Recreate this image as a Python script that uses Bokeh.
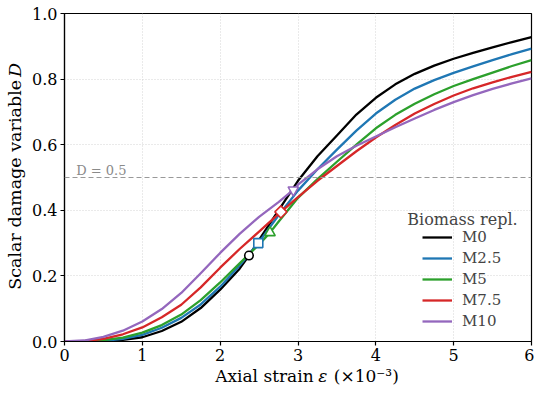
import math
from bokeh.plotting import figure
from bokeh.layouts import row, column
from bokeh.models import (Label, Legend, LegendItem, Range1d, Span,
                          FixedTicker, PrintfTickFormatter)
from bokeh.core.properties import value
from bokeh.embed import file_html
from bokeh.resources import INLINE

# ---------------- data ----------------
series_names = ["M0", "M2.5", "M5", "M7.5", "M10"]
series_colors = ["#000000", "#1f77b4", "#2ca02c", "#d62728", "#9467bd"]

m0_x = [0.0, 0.25, 0.5, 0.75, 1.0, 1.25, 1.5, 1.75, 2.0, 2.25, 2.37,
        2.5, 2.75, 3.0, 3.25, 3.5, 3.75, 4.0, 4.25, 4.5, 4.75, 5.0, 5.25, 5.5, 5.75, 6.0]
m0_y = [0.0, 0.0, 0.001, 0.005, 0.013, 0.032, 0.060, 0.102, 0.158, 0.222, 0.262,
        0.310, 0.400, 0.490, 0.565, 0.628, 0.692, 0.743, 0.784, 0.816, 0.841, 0.862, 0.880, 0.897, 0.913, 0.928]

m25_x = [0.0, 0.25, 0.5, 0.75, 1.0, 1.25, 1.5, 1.75, 2.0, 2.25, 2.49,
         2.75, 3.0, 3.25, 3.5, 3.75, 4.0, 4.25, 4.5, 4.75, 5.0, 5.25, 5.5, 5.75, 6.0]
m25_y = [0.0, 0.0, 0.002, 0.008, 0.020, 0.042, 0.072, 0.113, 0.167, 0.232, 0.300,
         0.385, 0.460, 0.525, 0.585, 0.643, 0.695, 0.737, 0.771, 0.797, 0.819, 0.839, 0.858, 0.876, 0.893]

m5_x = [0.0, 0.25, 0.5, 0.75, 1.0, 1.25, 1.5, 1.75, 2.0, 2.25, 2.5, 2.64,
        2.75, 3.0, 3.25, 3.5, 3.75, 4.0, 4.25, 4.5, 4.75, 5.0, 5.25, 5.5, 5.75, 6.0]
m5_y = [0.0, 0.001, 0.004, 0.012, 0.027, 0.050, 0.082, 0.126, 0.180, 0.238, 0.296, 0.332,
        0.365, 0.438, 0.495, 0.548, 0.600, 0.650, 0.691, 0.725, 0.754, 0.779, 0.800, 0.820, 0.840, 0.858]

m75_x = [0.0, 0.25, 0.5, 0.75, 1.0, 1.25, 1.5, 1.75, 2.0, 2.25, 2.5, 2.78,
         3.0, 3.25, 3.5, 3.75, 4.0, 4.25, 4.5, 4.75, 5.0, 5.25, 5.5, 5.75, 6.0]
m75_y = [0.0, 0.001, 0.008, 0.022, 0.043, 0.074, 0.112, 0.165, 0.225, 0.282, 0.335, 0.395,
         0.440, 0.490, 0.535, 0.580, 0.622, 0.660, 0.695, 0.724, 0.750, 0.772, 0.790, 0.807, 0.822]

m10_x = [0.0, 0.25, 0.5, 0.75, 1.0, 1.25, 1.5, 1.75, 2.0, 2.25, 2.5, 2.75, 2.94,
         3.0, 3.25, 3.5, 3.75, 4.0, 4.25, 4.5, 4.75, 5.0, 5.25, 5.5, 5.75, 6.0]
m10_y = [0.0, 0.003, 0.014, 0.033, 0.061, 0.099, 0.148, 0.208, 0.270, 0.328, 0.380, 0.425, 0.462,
         0.478, 0.525, 0.565, 0.597, 0.625, 0.653, 0.680, 0.706, 0.730, 0.751, 0.770, 0.787, 0.802]

# peak markers
marker_x = [2.37, 2.49, 2.64, 2.78, 2.94]
marker_y = [0.262, 0.300, 0.332, 0.395, 0.462]
marker_types = ["circle", "square", "triangle", "square", "inverted_triangle"]
marker_angles = [0.0, 0.0, 0.0, math.pi / 4, 0.0]
marker_sizes = [8.5, 9, 10.5, 8.5, 10.5]

x_ticks = [0, 1, 2, 3, 4, 5, 6]
y_ticks = [0.0, 0.2, 0.4, 0.6, 0.8, 1.0]
threshold = 0.5

all_x = [m0_x, m25_x, m5_x, m75_x, m10_x]
all_y = [m0_y, m25_y, m5_y, m75_y, m10_y]

# ---------------- layout geometry (pixels) ----------------
FONT = "DejaVu Serif"
TOTAL_W, TOTAL_H = 534, 386
YLAB_W = 26
XLAB_H = 20
MAIN_W = TOTAL_W - YLAB_W
MAIN_H = TOTAL_H - XLAB_H
FRAME_L, FRAME_R, FRAME_T, FRAME_B = 64, 531, 13, 341


def blank_fig(w, h, xr, yr):
    f = figure(width=w, height=h, output_backend="svg", toolbar_location=None,
               x_range=Range1d(*xr), y_range=Range1d(*yr),
               x_axis_location=None, y_axis_location=None, title=None,
               min_border=0, min_border_left=0, min_border_right=0,
               min_border_top=0, min_border_bottom=0)
    f.outline_line_color = None
    f.grid.visible = False
    f.background_fill_color = "white"
    f.border_fill_color = "white"
    return f


# ---------------- main figure ----------------
p = figure(width=MAIN_W, height=MAIN_H, output_backend="svg", toolbar_location=None,
           x_range=Range1d(0, 6), y_range=Range1d(0, 1),
           min_border_left=FRAME_L - YLAB_W, min_border_right=TOTAL_W - FRAME_R,
           min_border_top=FRAME_T, min_border_bottom=MAIN_H - FRAME_B)
p.background_fill_color = "white"
p.border_fill_color = "white"
p.outline_line_color = "black"
p.outline_line_width = 1.2
p.outline_line_alpha = 1.0

for ax in (p.xaxis, p.yaxis):
    ax.axis_line_color = "black"
    ax.axis_line_width = 1.2
    ax.major_tick_line_color = "black"
    ax.major_tick_line_width = 1.2
    ax.major_tick_out = 4
    ax.major_tick_in = 0
    ax.minor_tick_line_color = None
    ax.major_label_text_font = FONT
    ax.major_label_text_font_size = "16px"
    ax.major_label_text_color = "black"
    ax.axis_label = None

p.xaxis.ticker = FixedTicker(ticks=x_ticks)
p.yaxis.ticker = FixedTicker(ticks=y_ticks)
p.xaxis.formatter = PrintfTickFormatter(format="%d")
p.yaxis.formatter = PrintfTickFormatter(format="%.1f")
p.xaxis.major_label_standoff = 3
p.yaxis.major_label_standoff = 3

p.grid.grid_line_color = "#cfcfcf"
p.grid.grid_line_dash = "1 2"
p.grid.grid_line_width = 0.9

p.add_layout(Span(location=threshold, dimension="width", line_color="#999999",
                  line_dash="5 3", line_width=1.2))

renderers = []
for xs, ys, c in zip(all_x, all_y, series_colors):
    r = p.line(xs, ys, line_color=c, line_width=2.3, line_join="round")
    renderers.append(r)

for mx, my, mt, ma, ms, c in zip(marker_x, marker_y, marker_types, marker_angles,
                                 marker_sizes, series_colors):
    p.scatter([mx], [my], marker=mt, angle=ma, size=ms, fill_color="white",
              line_color=c, line_width=1.6)

legend = Legend(items=[LegendItem(label=n, renderers=[r]) for n, r in zip(series_names, renderers)],
                location=(358, 10), padding=0, margin=0, border_line_color=None,
                background_fill_alpha=0, label_text_font=FONT, label_text_font_size="15px",
                glyph_width=30, glyph_height=20, label_height=20, label_standoff=10, spacing=1)
p.add_layout(legend)

# legend title
p.add_layout(Label(x=5.113, y=0.372, text="Biomass repl.", text_font=FONT,
                   text_font_size="16px", text_align="center", text_baseline="alphabetic"))

# threshold text
p.add_layout(Label(x=0.15, y=0.521, text="D = 0.5", text_font=FONT, text_font_size="13px",
                   text_color="#8a8a8a", text_align="left", text_baseline="alphabetic"))

# ---------------- y-axis label strip (page pixel coords) ----------------
ylab = blank_fig(YLAB_W, TOTAL_H, (0, YLAB_W), (0, TOTAL_H))
ylab.text(x=[14], y=[TOTAL_H - 79.4], text=["Scalar damage variable"], angle=math.pi / 2,
          text_align="right", text_baseline="middle", text_font=value(FONT),
          text_font_size=value("17.5px"), text_color="black")
ylab.text(x=[14], y=[TOTAL_H - 76.4], text=["D"], angle=math.pi / 2,
          text_align="left", text_baseline="middle", text_font=value(FONT),
          text_font_style="italic", text_font_size=value("17.5px"), text_color="black")

# ---------------- x-axis label strip ----------------
xlab = blank_fig(MAIN_W, XLAB_H, (YLAB_W, TOTAL_W), (0, XLAB_H))
mid = 11
xlab.text(x=[297], y=[mid], text=["Axial strain"], text_align="right",
          text_baseline="middle", text_font=value(FONT), text_font_size=value("17px"),
          text_color="black")
xlab.text(x=[302], y=[mid], text=["ε"], text_align="left",
          text_baseline="middle", text_font=value(FONT), text_font_style="italic",
          text_font_size=value("17px"), text_color="black")
xlab.text(x=[319], y=[mid], text=["(×10⁻³)"], text_align="left",
          text_baseline="middle", text_font=value(FONT), text_font_size=value("17px"),
          text_color="black")

layout = row(ylab, column(p, xlab, spacing=0), spacing=0)

open("out.html", "w").write(file_html(layout, INLINE))
